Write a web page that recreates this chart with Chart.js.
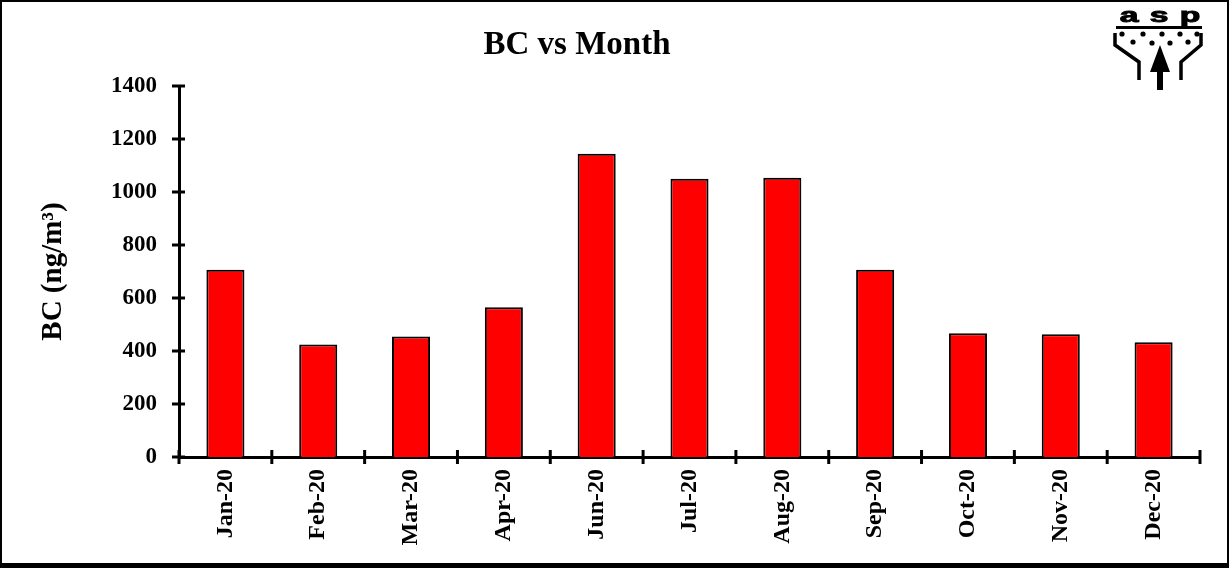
<!DOCTYPE html>
<html>
<head>
<meta charset="utf-8">
<script src="https://cdn.jsdelivr.net/npm/chart.js@4.4.1/dist/chart.umd.min.js"></script>
<style>
  html, body { margin: 0; padding: 0; background: #fff; }
  #wrap { position: relative; width: 1229px; height: 568px; box-sizing: border-box;
          border: 2px solid #000; border-bottom-width: 5px; }
  #titulo { position: absolute; left: 0; width: 1150px; top: 25px; text-align: center;
            font: bold 33px/33px "Liberation Serif", serif; color: #000; }
  #logo { position: absolute; left: 1098px; top: -2px; }
</style>
</head>
<body>
<div id="wrap">
  <canvas id="bcMes" width="1225" height="561"></canvas>
  <div id="titulo">BC vs Month</div>
  <svg id="logo" width="120" height="100" viewBox="0 0 120 100">
    <g font-family="Liberation Sans, Arial" font-weight="bold" font-size="21" text-anchor="middle" stroke="#000" stroke-width="1">
      <text transform="translate(29,22) scale(1.6,1)">a</text>
      <text transform="translate(59,22) scale(1.6,1)">s</text>
      <text transform="translate(90,22) scale(1.6,1)">p</text>
    </g>
    <rect x="16" y="26" width="86" height="3" fill="#000"/>
    <g fill="#000">
      <circle cx="22" cy="34" r="2.6"/><circle cx="43" cy="34" r="2.6"/><circle cx="62" cy="34" r="2.6"/>
      <circle cx="80" cy="34" r="2.6"/><circle cx="97" cy="34" r="2.6"/>
      <circle cx="33" cy="42" r="2.6"/><circle cx="52" cy="43" r="2.6"/><circle cx="70" cy="43" r="2.6"/>
      <circle cx="88" cy="42" r="2.6"/>
    </g>
    <polyline points="15,33 15,45 39,62 39,80" fill="none" stroke="#000" stroke-width="3.5"/>
    <polyline points="101,33 101,45 81,62 81,80" fill="none" stroke="#000" stroke-width="3.5"/>
    <polygon points="60,45 50,72 70,72" fill="#000"/>
    <rect x="57" y="70" width="6" height="20" fill="#000"/>
  </svg>
</div>
<script>
// Dados do gráfico
const meses = ['Jan-20', 'Feb-20', 'Mar-20', 'Apr-20', 'Jun-20', 'Jul-20', 'Aug-20', 'Sep-20', 'Oct-20', 'Nov-20', 'Dec-20'];
const valoresBC = [707, 425, 455, 565, 1144, 1050, 1054, 707, 467, 463, 433];
const ticksY = [0, 200, 400, 600, 800, 1000, 1200, 1400];

const fonte = 'Liberation Serif';

// marcas de escala cruzando o eixo
const marcasCruzadas = {
  id: 'marcasCruzadas',
  afterDraw(chart) {
    const c = chart.ctx;
    const x = chart.scales.x;
    const y = chart.scales.y;
    c.save();
    c.strokeStyle = '#000';
    c.lineWidth = 3;
    ticksY.forEach(v => {
      const py = y.getPixelForValue(v);
      c.beginPath();
      c.moveTo(x.left - 7, py);
      c.lineTo(x.left + 6, py);
      c.stroke();
    });
    const meio = (x.getPixelForValue(1) - x.getPixelForValue(0)) / 2;
    for (let i = 0; i <= meses.length; i++) {
      const px = x.getPixelForValue(i) - meio;
      c.beginPath();
      c.moveTo(px, y.bottom - 7);
      c.lineTo(px, y.bottom + 7);
      c.stroke();
    }
    c.restore();
  }
};

const ctx = document.getElementById('bcMes');
if (ctx) {
  new Chart(ctx, {
    type: 'bar',
    data: {
      labels: meses,
      datasets: [{
        data: valoresBC,
        backgroundColor: '#ff0000',
        borderColor: '#000',
        borderWidth: 2,
        categoryPercentage: 1,
        barPercentage: 0.41
      }]
    },
    options: {
      responsive: false,
      animation: false,
      layout: { padding: { left: 0, right: 27, top: 84, bottom: 0 } },
      plugins: { legend: { display: false }, tooltip: { enabled: false } },
      scales: {
        x: {
          grid: { display: false, offset: true },
          border: { display: true, color: '#000', width: 3 },
          ticks: {
            color: '#000',
            font: { family: fonte, weight: 'bold', size: 24 },
            maxRotation: 90, minRotation: 90,
            padding: 4
          },
          afterFit(s) { s.height = 106; }
        },
        y: {
          min: 0, max: 1400,
          afterBuildTicks(s) { s.ticks = ticksY.map(v => ({ value: v })); },
          grid: { display: false },
          border: { display: true, color: '#000', width: 3 },
          ticks: {
            color: '#000',
            font: { family: fonte, weight: 'bold', size: 23 },
            padding: 14,
            callback: v => String(v)
          },
          title: {
            display: true,
            text: 'BC (ng/m³)',
            color: '#000',
            font: { family: fonte, weight: 'bold', size: 29 },
            padding: { top: 34, bottom: 0 }
          },
          afterFit(s) { s.width = 177; }
        }
      }
    },
    plugins: [marcasCruzadas]
  });
}
</script>
</body>
</html>
